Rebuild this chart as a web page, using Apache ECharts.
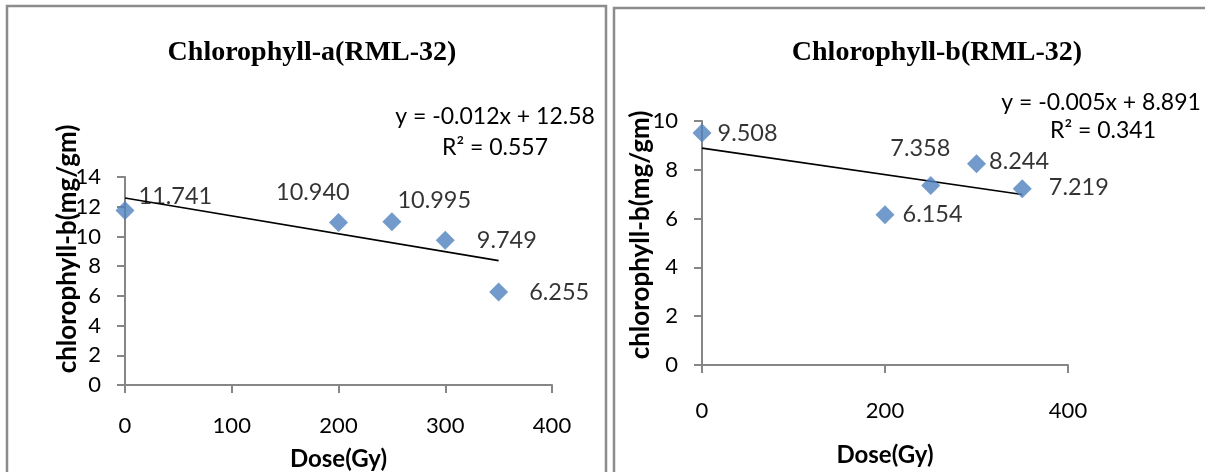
<!DOCTYPE html>
<html>
<head>
<meta charset="utf-8">
<style>
  html, body { margin: 0; padding: 0; background: #ffffff; }
  #chart { width: 1205px; height: 472px; }
</style>
<script src="https://cdn.jsdelivr.net/npm/echarts@6/dist/echarts.min.js"></script>
</head>
<body>
<div id="chart"></div>
<script>
// ---- data ----
const titleA = 'Chlorophyll-a(RML-32)';
const titleB = 'Chlorophyll-b(RML-32)';
const yNameA = 'chlorophyll-b(mg/gm)';
const yNameB = 'chlorophyll-b(mg/gm)';
const xName = 'Dose(Gy)';

const doseA = [0, 200, 250, 300, 350];
const chlA = [11.741, 10.940, 10.995, 9.749, 6.255];
const trendDoseA = [0, 350];
const trendValA = [12.585, 8.371];
const eqA = ['y = -0.012x + 12.58', 'R\u00B2 = 0.557'];

const doseB = [0, 200, 250, 300, 350];
const chlB = [9.508, 6.154, 7.358, 8.244, 7.219];
const trendDoseB = [0, 350];
const trendValB = [8.890, 6.991];
const eqB = ['y = -0.005x + 8.891', 'R\u00B2 = 0.341'];

// ---- label placement (style, not data) ----
const labelOffA = [[4, -14], [-72, -30], [-4, -21], [22, 0], [21, 0]];
const labelOffB = [[6, 0], [8, 0], [-50, -37], [3, -2], [17, -1]];

const FONT = 'Lato';
const axisGrey = '#868686';
const markerBlue = '#4F81BD';

function scatterData(xs, ys, offs) {
  return xs.map((x, i) => ({
    value: [x, ys[i]],
    label: { offset: offs[i] }
  }));
}
function lineData(xs, ys) { return xs.map((x, i) => [x, ys[i]]); }

function xAxisCfg(gridIndex, interval, nameGap, labelMargin) {
  return {
    type: 'value', gridIndex, min: 0, max: 400, interval,
    name: xName, nameLocation: 'middle', nameGap,
    nameMoveOverlap: false,
    nameTextStyle: { fontFamily: FONT, fontWeight: 'bold', fontSize: 24, color: '#000' },
    axisLine: { show: true, onZero: false, lineStyle: { color: axisGrey, width: 2 } },
    axisTick: { show: true, inside: false, length: 8, lineStyle: { color: axisGrey, width: 2 } },
    axisLabel: { fontFamily: FONT, fontSize: 22, color: '#000', margin: labelMargin },
    splitLine: { show: false }
  };
}
function yAxisCfg(gridIndex, max, name, nameGap, shift) {
  return {
    type: 'value', gridIndex, min: 0, max, interval: 2,
    name, nameLocation: 'middle', nameGap,
    nameMoveOverlap: false,
    nameTextStyle: { fontFamily: FONT, fontWeight: 'bold', fontSize: 26, color: '#000', padding: [0, 0, 0, shift] },
    axisLine: { show: true, onZero: false, lineStyle: { color: axisGrey, width: 2 } },
    axisTick: { show: true, inside: false, length: 8, lineStyle: { color: axisGrey, width: 2 } },
    axisLabel: { fontFamily: FONT, fontSize: 22, color: '#000', margin: 24 },
    splitLine: { show: false }
  };
}

const scatterLabel = {
  show: true, position: 'right', distance: 0,
  fontFamily: FONT, fontSize: 23.5, color: '#000',
  formatter: p => p.value[1].toFixed(3)
};

const chart = echarts.init(document.getElementById('chart'), null, { renderer: 'canvas' });
chart.setOption({
  backgroundColor: '#ffffff',
  animation: false,
  title: [
    { text: titleA, left: 307, top: 34, textAlign: 'center',
      textStyle: { fontFamily: 'Liberation Serif', fontWeight: 'bold', fontSize: 28, color: '#000' } },
    { text: titleB, left: 932, top: 34, textAlign: 'center',
      textStyle: { fontFamily: 'Liberation Serif', fontWeight: 'bold', fontSize: 28, color: '#000' } }
  ],
  grid: [
    { left: 125, top: 177, width: 427, height: 211 },
    { left: 702, top: 121, width: 366, height: 251 }
  ],
  xAxis: [xAxisCfg(0, 100, 62, 30), xAxisCfg(1, 200, 78, 35)],
  yAxis: [yAxisCfg(0, 14, yNameA, 44, 64), yAxisCfg(1, 10, yNameB, 48, 16)],
  series: [
    { type: 'line', xAxisIndex: 0, yAxisIndex: 0, data: lineData(trendDoseA, trendValA),
      showSymbol: false, lineStyle: { color: '#000', width: 1.6 }, z: 2, silent: true },
    { type: 'scatter', xAxisIndex: 0, yAxisIndex: 0, data: scatterData(doseA, chlA, labelOffA),
      symbol: 'diamond', symbolSize: 19, itemStyle: { color: markerBlue }, label: scatterLabel, z: 3 },
    { type: 'line', xAxisIndex: 1, yAxisIndex: 1, data: lineData(trendDoseB, trendValB),
      showSymbol: false, lineStyle: { color: '#000', width: 1.6 }, z: 2, silent: true },
    { type: 'scatter', xAxisIndex: 1, yAxisIndex: 1, data: scatterData(doseB, chlB, labelOffB),
      symbol: 'diamond', symbolSize: 19, itemStyle: { color: markerBlue }, label: scatterLabel, z: 3 }
  ],
  graphic: [
    { type: 'rect', shape: { x: 7, y: 6, width: 599, height: 490 },
      style: { fill: 'none', stroke: '#8c8c8c', lineWidth: 2.5 }, z: 0, silent: true },
    { type: 'rect', shape: { x: 614, y: 8, width: 600, height: 490 },
      style: { fill: 'none', stroke: '#8c8c8c', lineWidth: 2.5 }, z: 0, silent: true },
    { type: 'text', style: { text: eqA[0], x: 495, y: 117, textAlign: 'center', textVerticalAlign: 'middle',
      fontFamily: FONT, fontSize: 23, fill: '#000' } },
    { type: 'text', style: { text: eqA[1], x: 495, y: 148, textAlign: 'center', textVerticalAlign: 'middle',
      fontFamily: FONT, fontSize: 23, fill: '#000' } },
    { type: 'text', style: { text: eqB[0], x: 1101, y: 103, textAlign: 'center', textVerticalAlign: 'middle',
      fontFamily: FONT, fontSize: 23, fill: '#000' } },
    { type: 'text', style: { text: eqB[1], x: 1103, y: 131, textAlign: 'center', textVerticalAlign: 'middle',
      fontFamily: FONT, fontSize: 23, fill: '#000' } }
  ]
});
</script>
</body>
</html>
